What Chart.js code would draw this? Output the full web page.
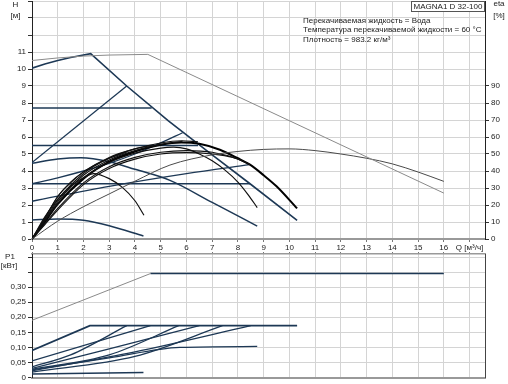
<!DOCTYPE html>
<html>
<head>
<meta charset="utf-8">
<script src="https://cdn.jsdelivr.net/npm/chart.js@4.4.0/dist/chart.umd.min.js"></script>
<style>
  html, body { margin: 0; padding: 0; background: #fff; }
  #wrap { position: relative; width: 508px; height: 384px; }
  #top { position: absolute; left: 0; top: 0; }
  #bot { position: absolute; left: 0; top: 252px; }
</style>
</head>
<body>
<div id="wrap">
  <canvas id="top" width="508" height="252" style="width:508px;height:252px"></canvas>
  <canvas id="bot" width="508" height="132" style="width:508px;height:132px"></canvas>
</div>
<script>
// --- QH curves, H in m, Q in m3/h ---
const qGreyMax = [0, 1, 2, 3, 4.5, 16];
const hGreyMax = [10.5, 10.65, 10.76, 10.82, 10.86, 2.7];
const qMax = [0, 0.5, 1, 1.5, 2.28, 3.68, 5.3, 7, 8.47, 10.3];
const hMax = [10.05, 10.3, 10.5, 10.68, 10.9, 9.0, 6.95, 4.95, 3.25, 1.1];
const qCp1 = [0, 4.65], hCp1 = [7.7, 7.7];
const qCp2 = [0, 6.45], hCp2 = [5.5, 5.5];
const qCp3 = [0, 8.47], hCp3 = [3.25, 3.25];
const qPp1 = [0, 3.68], hPp1 = [4.5, 9.0];
const qPp2 = [0, 1, 2, 3, 4, 5, 5.85];
const hPp2 = [3.25, 3.6, 4.0, 4.45, 5.0, 5.65, 6.25];
const qPp3 = [0, 3, 6, 8.45];
const hPp3 = [2.22, 3.1, 3.85, 4.37];
const qFix = [0, 1, 1.9, 3, 4, 5.36, 7, 8.75];
const hFix = [4.45, 4.7, 4.78, 4.55, 4.1, 3.45, 2.15, 0.76];
const qMin = [0, 1, 2, 3, 4.33];
const hMin = [1.12, 1.17, 1.1, 0.78, 0.18];

// --- efficiency curves, eta in % ---
const qEtaGrey = [0, 1, 2, 3, 4, 5.36, 7, 8, 9, 10, 11, 12, 13, 14, 15, 16];
const etaGrey = [0, 10.5, 19, 26.5, 34, 43.5, 49.5, 51.5, 52.7, 53, 52, 50, 47.5, 44.2, 39.4, 33.9];
const qEtaMax = [0, 0.5, 1, 2, 3, 4, 5, 5.8, 6.5, 7.3, 8, 8.47, 9, 9.5, 10.3];
const etaMax = [0, 10, 20.5, 35.5, 45.5, 51.5, 55.5, 56.8, 56, 52.5, 47.5, 43.7, 37.5, 31, 18];
const qEtaFix = [0, 0.5, 1, 2, 3, 4, 5, 5.5, 6, 6.5, 7, 7.5, 8, 8.4, 8.75];
const etaFix = [0, 10.5, 21, 36, 45, 50.5, 53.5, 54, 53, 50, 46, 40.5, 33.5, 26, 18.5];
const qEtaMin = [0, 0.5, 1, 1.5, 2, 2.4, 3, 3.5, 4, 4.35];
const etaMin = [0, 13, 23.5, 31, 36, 38.5, 35.5, 30.5, 22.5, 14];
const qEtaPp1 = [0, 0.5, 1, 1.5, 2, 2.5, 3, 3.68];
const etaPp1 = [0, 12, 25, 33, 39.5, 44, 47.5, 51];
const qEtaCp1 = [0, 0.5, 1, 1.5, 2, 3, 4, 4.65];
const etaCp1 = [0, 12.5, 25, 33.5, 39.5, 48, 53, 55];
const qEtaPp2 = [0, 0.5, 1, 2, 3, 4, 5, 5.85];
const etaPp2 = [0, 11, 22, 37.5, 46.5, 52, 55.5, 57.5];
const qEtaCp2 = [0, 0.5, 1, 2, 3, 4, 5, 5.8, 6.45];
const etaCp2 = [0, 11.5, 23, 38.5, 47.5, 53, 56.5, 57.8, 57.2];
const qEtaCp3 = [0, 0.5, 1, 2, 3, 4, 5, 6, 7, 8, 8.47];
const etaCp3 = [0, 9, 18, 33, 42.5, 48, 51, 52, 51, 47, 43.7];
const qEtaPp3 = [0, 0.5, 1, 2, 3, 4, 5, 6, 7, 7.8, 8.45];
const etaPp3 = [0, 8.5, 17, 32, 41.5, 47, 50, 50.8, 50, 48, 44];

// --- power curves, P1 in kW ---
const qPGrey = [0, 4.6], pGrey = [0.19, 0.345];
const qPTop = [4.6, 16], pTop = [0.345, 0.345];
const qPMax = [0, 2.25, 10.3], pMax = [0.09, 0.172, 0.172];
const qPCp1 = [0, 4.6], pCp1 = [0.055, 0.172];
const qPPp1 = [0, 1.5, 3.68], pPp1 = [0.035, 0.075, 0.172];
const qPCp2 = [0, 3, 6.5], pCp2 = [0.03, 0.095, 0.172];
const qPPp2 = [0, 3, 5.7], pPp2 = [0.027, 0.075, 0.172];
const qPPp3 = [0, 4, 7.4], pPp3 = [0.018, 0.07, 0.172];
const qPCp3 = [0, 4, 8.5], pCp3 = [0.022, 0.085, 0.172];
const qPFix = [0, 3, 5.75, 8.75], pFix = [0.025, 0.065, 0.1, 0.103];
const qPMin = [0, 4.33], pMin = [0.012, 0.017];

const pTickValues = [0, 0.05, 0.10, 0.15, 0.20, 0.25, 0.30, 0.35, 0.40];

const NAVY = '#1d3855';
const GRID = '#d4d4d4';

Chart.defaults.font.family = '"Liberation Sans", Arial, sans-serif';
Chart.defaults.font.size = 8;
Chart.defaults.color = '#222';

function line(q, v, color, width, axis, smooth) {
  return {
    data: q.map((x, i) => ({ x: x, y: v[i] })),
    showLine: true,
    borderColor: color,
    borderWidth: width,
    pointRadius: 0,
    yAxisID: axis,
    tension: smooth ? 0.4 : 0,
    cubicInterpolationMode: smooth ? 'monotone' : 'default',
    fill: false
  };
}

function noPad(s) {
  s.paddingTop = 0; s.paddingBottom = 0; s.paddingLeft = 0; s.paddingRight = 0;
}

const topText = {
  id: 'topText',
  afterDraw(chart) {
    const ctx = chart.ctx;
    ctx.save();
    ctx.font = '8px "Liberation Sans", Arial, sans-serif';
    ctx.fillStyle = '#222';
    ctx.textBaseline = 'middle';
    ctx.textAlign = 'center';
    ctx.fillText('H', 15.5, 5);
    ctx.fillText('[м]', 15.5, 16);
    ctx.fillText('eta', 499, 4);
    ctx.fillText('[%]', 499, 16);
    // title box
    ctx.fillStyle = '#fff';
    ctx.fillRect(411.5, 1.5, 73, 10);
    ctx.strokeStyle = '#555';
    ctx.lineWidth = 1;
    ctx.strokeRect(411.5, 1.5, 73, 10);
    ctx.fillStyle = '#222';
    ctx.fillText('MAGNA1 D 32-100', 448, 6.8);
    ctx.textAlign = 'left';
    ctx.fillText('Перекачиваемая жидкость = Вода', 303, 20.5);
    ctx.fillText('Температура перекачиваемой жидкости = 60 °C', 303, 30);
    ctx.fillText('Плотность = 983.2 кг/м³', 303, 39.5);
    ctx.restore();
  }
};

const botText = {
  id: 'botText',
  afterDraw(chart) {
    const ctx = chart.ctx;
    ctx.save();
    ctx.font = '8px "Liberation Sans", Arial, sans-serif';
    ctx.fillStyle = '#222';
    ctx.textBaseline = 'middle';
    ctx.textAlign = 'center';
    ctx.fillText('P1', 10, 5);
    ctx.fillText('[кВт]', 9, 14);
    ctx.restore();
  }
};

new Chart(document.getElementById('top'), {
  type: 'scatter',
  data: {
    datasets: [
      line(qGreyMax, hGreyMax, '#8a8a8a', 1, 'y', false),
      line(qEtaGrey, etaGrey, '#4a4a4a', 1, 'eta', true),
      line(qEtaMin, etaMin, '#111', 1.2, 'eta', true),
      line(qEtaPp1, etaPp1, '#111', 1.1, 'eta', true),
      line(qEtaCp1, etaCp1, '#111', 1.1, 'eta', true),
      line(qEtaPp2, etaPp2, '#111', 1.1, 'eta', true),
      line(qEtaCp2, etaCp2, '#111', 1.1, 'eta', true),
      line(qEtaCp3, etaCp3, '#111', 1.1, 'eta', true),
      line(qEtaPp3, etaPp3, '#111', 1.1, 'eta', true),
      line(qEtaFix, etaFix, '#111', 1.2, 'eta', true),
      line(qEtaMax, etaMax, '#000', 2, 'eta', true),
      line(qCp1, hCp1, NAVY, 1.5, 'y', false),
      line(qCp2, hCp2, NAVY, 1.5, 'y', false),
      line(qCp3, hCp3, NAVY, 1.5, 'y', false),
      line(qPp1, hPp1, NAVY, 1.3, 'y', false),
      line(qPp2, hPp2, NAVY, 1.3, 'y', true),
      line(qPp3, hPp3, NAVY, 1.3, 'y', true),
      line(qFix, hFix, NAVY, 1.5, 'y', true),
      line(qMin, hMin, NAVY, 1.5, 'y', true),
      line(qMax, hMax, NAVY, 1.6, 'y', false)
    ]
  },
  options: {
    responsive: false,
    animation: false,
    devicePixelRatio: 1,
    layout: { padding: { top: 1, left: 0, right: 0, bottom: 0 } },
    plugins: { legend: { display: false }, tooltip: { enabled: false } },
    scales: {
      x: {
        type: 'linear', min: 0, max: 17.6,
        afterFit: s => { s.height = 13; noPad(s); },
        ticks: {
          stepSize: 1, includeBounds: false, autoSkip: false, maxRotation: 0, padding: 1,
          callback: v => v === 17 ? 'Q [м³/ч]' : (v <= 16 ? String(v) : '')
        },
        grid: { color: GRID, tickLength: 3, tickColor: '#777' },
        border: { color: '#999', width: 2 }
      },
      y: {
        type: 'linear', position: 'left', min: 0, max: 14,
        afterFit: s => { s.width = 32; noPad(s); },
        ticks: { stepSize: 1, padding: 2, callback: v => v <= 11 ? String(v) : '' },
        grid: { color: GRID, tickLength: 4, tickColor: '#333' },
        border: { color: '#222' }
      },
      eta: {
        type: 'linear', position: 'right', min: 0, max: 140,
        afterFit: s => { s.width = 23; noPad(s); },
        afterBuildTicks: s => { s.ticks = s.ticks.filter(t => t.value <= 90); },
        ticks: { stepSize: 10, padding: 2 },
        grid: { drawOnChartArea: false, tickLength: 4, tickColor: '#333' },
        border: { color: '#222' }
      }
    }
  },
  plugins: [topText]
});

new Chart(document.getElementById('bot'), {
  type: 'scatter',
  data: {
    datasets: [
      line(qPGrey, pGrey, '#8a8a8a', 1, 'y', false),
      line(qPTop, pTop, NAVY, 1.5, 'y', false),
      line(qPMin, pMin, NAVY, 1.5, 'y', false),
      line(qPFix, pFix, NAVY, 1.3, 'y', true),
      line(qPPp3, pPp3, NAVY, 1.3, 'y', true),
      line(qPCp3, pCp3, NAVY, 1.3, 'y', true),
      line(qPPp2, pPp2, NAVY, 1.3, 'y', true),
      line(qPCp2, pCp2, NAVY, 1.3, 'y', true),
      line(qPPp1, pPp1, NAVY, 1.3, 'y', true),
      line(qPCp1, pCp1, NAVY, 1.3, 'y', false),
      line(qPMax, pMax, NAVY, 1.8, 'y', false)
    ]
  },
  options: {
    responsive: false,
    animation: false,
    devicePixelRatio: 1,
    layout: { padding: 0 },
    plugins: { legend: { display: false }, tooltip: { enabled: false } },
    scales: {
      x: {
        type: 'linear', position: 'bottom', min: 0, max: 17.6,
        afterFit: s => { s.height = 6.5; noPad(s); },
        ticks: { display: false, stepSize: 1, includeBounds: false },
        grid: { color: GRID, drawTicks: false },
        border: { color: '#999', width: 2 }
      },
      x2: {
        type: 'linear', position: 'top', min: 0, max: 17.6,
        afterFit: s => { s.height = 2; noPad(s); },
        ticks: { display: false, stepSize: 1, includeBounds: false },
        grid: { drawOnChartArea: false, tickLength: 3, tickColor: '#777' },
        border: { color: '#999', width: 1.5 }
      },
      y: {
        type: 'linear', position: 'left', min: 0, max: 0.41,
        afterFit: s => { s.width = 32; noPad(s); },
        afterBuildTicks: s => { s.ticks = pTickValues.map(v => ({ value: v })); },
        ticks: {
          padding: 2,
          callback: v => {
            const r = Math.round(v * 100) / 100;
            if (r > 0.3) return '';
            return r === 0 ? '0' : r.toFixed(2).replace('.', ',');
          }
        },
        grid: { color: GRID, tickLength: 4, tickColor: '#333' },
        border: { color: '#222' }
      },
      y2: {
        type: 'linear', position: 'right', min: 0, max: 0.41,
        afterFit: s => { s.width = 23; noPad(s); },
        ticks: { display: false },
        grid: { display: false },
        border: { color: '#444' }
      }
    }
  },
  plugins: [botText]
});
</script>
</body>
</html>
